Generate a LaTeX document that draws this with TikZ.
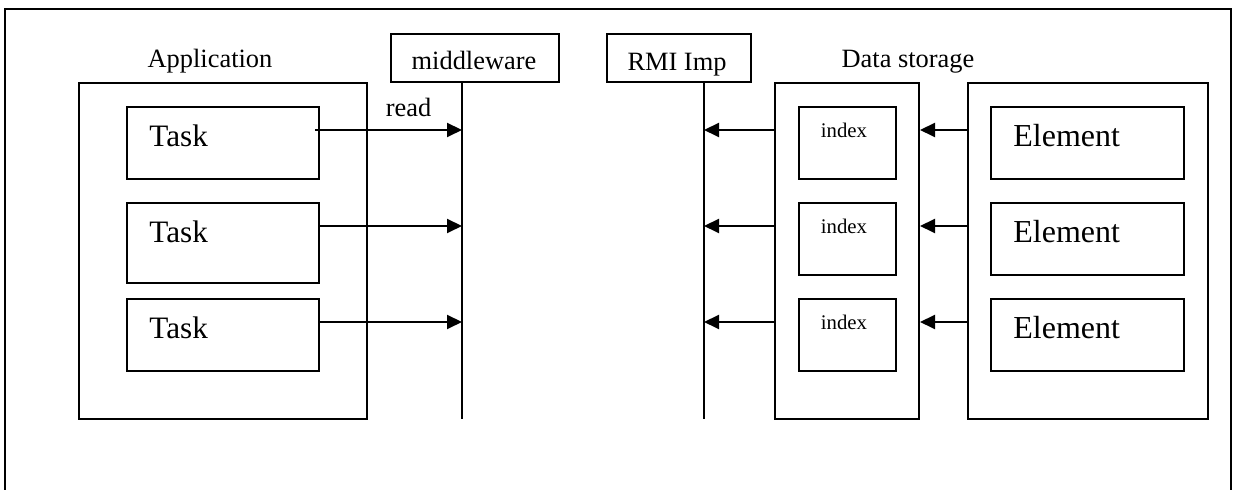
\documentclass[tikz,border=0pt]{standalone}
\usepackage{fontspec}
\setmainfont{Liberation Serif}
\usetikzlibrary{arrows.meta}
\tikzset{
  ln/.style={line width=1pt, line cap=rect},
  boxnode/.style={draw, line width=1pt, inner sep=0pt, anchor=center},
  arr/.style={line width=1pt, -{Triangle[length=7.5pt,width=7pt]}},
  lbl/.style={inner sep=0pt, anchor=base, font=\fontsize{13.2}{15}\selectfont},
  tasktxt/.style={inner sep=0pt, anchor=base west, font=\fontsize{15.6}{18}\selectfont},
  elemtxt/.style={inner sep=0pt, anchor=base west, font=\fontsize{16}{18}\selectfont},
  idxtxt/.style={inner sep=0pt, anchor=base, font=\fontsize{10.4}{12}\selectfont},
}
\begin{document}
\begin{tikzpicture}[x=0.5pt, y=-0.5pt]
\useasboundingbox (0,0) rectangle (1238,490);
% outer frame (open at bottom)
\coordinate (fbl) at (5,492);
\coordinate (ftl) at (5,9);
\coordinate (ftr) at (1231,9);
\coordinate (fbr) at (1231,492);
\draw[line width=1pt] (fbl) -- (ftl) -- (ftr) -- (fbr);

% Application
\node[lbl] (applbl) at (210,68) {Application};
\node[boxnode, minimum width=144pt, minimum height=168pt] (app) at (223,251) {};
\node[boxnode, minimum width=96pt, minimum height=36pt] (t1) at (223,143) {};
\node[boxnode, minimum width=96pt, minimum height=40pt] (t2) at (223,243) {};
\node[boxnode, minimum width=96pt, minimum height=36pt] (t3) at (223,335) {};
\node[tasktxt] (t1txt) at (149,147) {Task};
\node[tasktxt] (t2txt) at (149,243) {Task};
\node[tasktxt] (t3txt) at (149,339) {Task};

% middleware
\node[boxnode, minimum width=84pt, minimum height=24pt] (mw) at (475,58) {};
\node[lbl] (mwtxt) at (474,70) {middleware};
\coordinate (mwtop) at (462,82);
\coordinate (mwbot) at (462,419);
\draw[line width=1pt] (mwtop) -- (mwbot);
\node[lbl] (readlbl) at (408.5,116.7) {read};

% RMI Imp
\node[boxnode, minimum width=72pt, minimum height=24pt] (rmi) at (679,58) {};
\node[lbl] (rmitxt) at (677,71) {RMI Imp};
\coordinate (rmitop) at (704,82);
\coordinate (rmibot) at (704,419);
\draw[line width=1pt] (rmitop) -- (rmibot);

% Data storage
\node[lbl] (dslbl) at (908,68) {Data storage};
\node[boxnode, minimum width=72pt, minimum height=168pt] (ixo) at (847,251) {};
\node[boxnode, minimum width=48.5pt, minimum height=36pt] (i1) at (847.5,143) {};
\node[boxnode, minimum width=48.5pt, minimum height=36pt] (i2) at (847.5,239) {};
\node[boxnode, minimum width=48.5pt, minimum height=36pt] (i3) at (847.5,335) {};
\node[idxtxt] (i1txt) at (844,137.5) {index};
\node[idxtxt] (i2txt) at (844,233.5) {index};
\node[idxtxt] (i3txt) at (844,329.5) {index};

\node[boxnode, minimum width=120pt, minimum height=168pt] (elo) at (1088,251) {};
\node[boxnode, minimum width=96.5pt, minimum height=36pt] (e1) at (1087.5,143) {};
\node[boxnode, minimum width=96.5pt, minimum height=36pt] (e2) at (1087.5,239) {};
\node[boxnode, minimum width=96.5pt, minimum height=36pt] (e3) at (1087.5,335) {};
\node[elemtxt] (e1txt) at (1013,147) {Element};
\node[elemtxt] (e2txt) at (1013,243) {Element};
\node[elemtxt] (e3txt) at (1013,339) {Element};

% arrows: tasks -> middleware
\draw[arr] ([xshift=-2.5pt,yshift=-12pt]t1.north east) -- ([yshift=-12pt]t1.north east -| mwtop);
\draw[arr] ([yshift=-12pt]t2.north east) -- ([yshift=-12pt]t2.north east -| mwtop);
\draw[arr] ([yshift=-12pt]t3.north east) -- ([yshift=-12pt]t3.north east -| mwtop);

% arrows: elements -> index -> RMI
\draw[arr] ([yshift=-12pt]e1.north west -| elo.west) -- ([yshift=-12pt]e1.north west -| ixo.east);
\draw[arr] ([yshift=-12pt]e2.north west -| elo.west) -- ([yshift=-12pt]e2.north west -| ixo.east);
\draw[arr] ([yshift=-12pt]e3.north west -| elo.west) -- ([yshift=-12pt]e3.north west -| ixo.east);
\draw[arr] ([yshift=-12pt]i1.north west -| ixo.west) -- ([yshift=-12pt]i1.north west -| rmitop);
\draw[arr] ([yshift=-12pt]i2.north west -| ixo.west) -- ([yshift=-12pt]i2.north west -| rmitop);
\draw[arr] ([yshift=-12pt]i3.north west -| ixo.west) -- ([yshift=-12pt]i3.north west -| rmitop);
\end{tikzpicture}
\end{document}
